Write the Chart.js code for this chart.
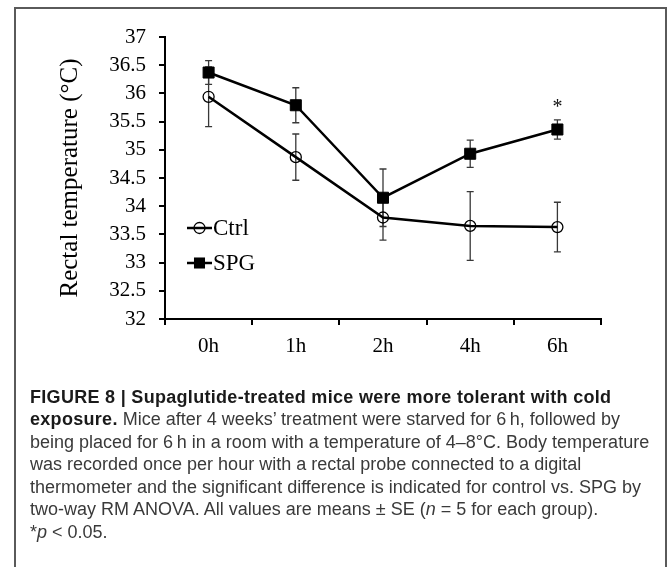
<!DOCTYPE html>
<html>
<head>
<meta charset="utf-8">
<script src="https://cdn.jsdelivr.net/npm/chart.js@4.4.1/dist/chart.umd.min.js"></script>
<style>
  html, body { margin:0; padding:0; background:#fff; }
  body { width:672px; height:567px; position:relative; overflow:hidden; }
  #frame { position:absolute; left:14px; top:7px; width:653px; height:620px; border:2px solid #5a5a5a; box-sizing:border-box; }
  #wrap { position:absolute; left:0; top:0; width:672px; height:380px; }
  #caption { position:absolute; left:30px; top:385.5px; width:640px; font-family:"Liberation Sans", Arial, sans-serif; font-size:18px; line-height:22.5px; color:#3a3a3a; white-space:nowrap; }
  #caption b { color:#1a1a1a; letter-spacing:0.3px; }
</style>
</head>
<body>
<div id="wrap"><canvas id="c" width="672" height="380"></canvas></div>
<div id="frame"></div>
<div id="caption">
<b>FIGURE 8 | Supaglutide-treated mice were more tolerant with cold</b><br>
<b>exposure.</b> Mice after 4 weeks’ treatment were starved for 6&#8201;h, followed by<br>
being placed for 6&#8201;h in a room with a temperature of 4–8°C. Body temperature<br>
was recorded once per hour with a rectal probe connected to a digital<br>
thermometer and the significant difference is indicated for control vs. SPG by<br>
two-way RM ANOVA. All values are means ± SE (<i>n</i> = 5 for each group).<br>
*<i>p</i> &lt; 0.05.
</div>
<script>
const categories = ['0h', '1h', '2h', '4h', '6h'];
const seriesNames = ['Ctrl', 'SPG'];
const ctrlMean = [35.94, 34.87, 33.80, 33.65, 33.63];
const ctrlSE   = [0.53, 0.41, 0.40, 0.61, 0.44];
const spgMean  = [36.37, 35.79, 34.15, 34.93, 35.36];
const spgSE    = [0.21, 0.31, 0.51, 0.24, 0.17];
const sigMarks = ['', '', '', '', '*'];
const yMin = 32, yMax = 37, yStep = 0.5;

const SERIF = '"Liberation Serif", "Times New Roman", serif';
const CANVAS_H = 380;

const errorBars = {
  id: 'errorBars',
  beforeDatasetsDraw(chart) {
    const ctx = chart.ctx;
    const x = chart.scales.x, y = chart.scales.y;
    const sets = [[ctrlMean, ctrlSE], [spgMean, spgSE]];
    ctx.save();
    ctx.strokeStyle = '#383838';
    ctx.lineWidth = 1.3;
    sets.forEach(([m, se]) => {
      m.forEach((v, i) => {
        const px = x.getPixelForValue(i);
        const top = y.getPixelForValue(v + se[i]);
        const bot = y.getPixelForValue(v - se[i]);
        ctx.beginPath();
        ctx.moveTo(px, top); ctx.lineTo(px, bot);
        ctx.moveTo(px - 3.5, top); ctx.lineTo(px + 3.5, top);
        ctx.moveTo(px - 3.5, bot); ctx.lineTo(px + 3.5, bot);
        ctx.stroke();
      });
    });
    ctx.restore();
  },
  afterDatasetsDraw(chart) {
    const ctx = chart.ctx;
    const x = chart.scales.x, y = chart.scales.y;
    ctx.save();
    ctx.fillStyle = '#111';
    ctx.font = '20px ' + SERIF;
    ctx.textAlign = 'center';
    ctx.textBaseline = 'alphabetic';
    sigMarks.forEach((s, i) => {
      if (!s) return;
      const px = x.getPixelForValue(i);
      const top = y.getPixelForValue(spgMean[i] + spgSE[i]);
      ctx.fillText(s, px, top - 7);
    });
    const a = chart.chartArea;
    const lx = a.left + 22, rows = [a.top + 191, a.top + 226];
    chart.data.datasets.forEach((ds, k) => {
      const yy = rows[k];
      ctx.strokeStyle = '#000';
      ctx.lineWidth = 2.5;
      ctx.beginPath(); ctx.moveTo(lx, yy); ctx.lineTo(lx + 25, yy); ctx.stroke();
      ctx.lineWidth = ds.pointBorderWidth;
      if (ds.pointStyle === 'rect') {
        const s = Math.SQRT1_2 * ds.pointRadius;
        ctx.fillStyle = '#000';
        ctx.fillRect(lx + 12.5 - s, yy - s, 2 * s, 2 * s);
      } else {
        ctx.beginPath(); ctx.arc(lx + 12.5, yy, ds.pointRadius, 0, Math.PI * 2); ctx.stroke();
      }
      ctx.fillStyle = '#000';
      ctx.font = '23px ' + SERIF;
      ctx.textAlign = 'left';
      ctx.textBaseline = 'middle';
      ctx.fillText(ds.label, lx + 26, yy + 1);
    });
    ctx.restore();
  }
};

new Chart(document.getElementById('c'), {
  type: 'line',
  data: {
    labels: categories,
    datasets: [
      { label: seriesNames[0], data: ctrlMean, borderColor: '#000', borderWidth: 2.5, tension: 0,
        pointStyle: 'circle', pointRadius: 5.5, pointBorderWidth: 1.3,
        pointBackgroundColor: 'rgba(0,0,0,0)', pointBorderColor: '#000' },
      { label: seriesNames[1], data: spgMean, borderColor: '#000', borderWidth: 2.5, tension: 0,
        pointStyle: 'rect', pointRadius: 7.8, pointBorderWidth: 1,
        pointBackgroundColor: '#000', pointBorderColor: '#000' }
    ]
  },
  options: {
    responsive: false, animation: false, devicePixelRatio: 1,
    layout: { padding: { left: 0, right: 71, top: 37, bottom: 0 } },
    plugins: { legend: { display: false }, tooltip: { enabled: false } },
    scales: {
      x: {
        offset: true,
        grid: { offset: true, drawOnChartArea: false, tickLength: 6, color: '#000', lineWidth: 2 },
        border: { color: '#000', width: 2 },
        ticks: { font: { family: SERIF, size: 21 }, color: '#000', padding: 9 },
        afterFit(s) { s.height = CANVAS_H - 319; }
      },
      y: {
        min: yMin, max: yMax,
        grid: { drawOnChartArea: false, tickLength: 6, color: '#000', lineWidth: 2 },
        border: { color: '#000', width: 2 },
        ticks: { stepSize: yStep, font: { family: SERIF, size: 21 }, color: '#000', padding: 13,
                 callback: (v) => String(v) },
        title: { display: true, text: 'Rectal temperature (°C)', font: { family: SERIF, size: 25, weight: 'normal' },
                 color: '#000', padding: { top: 55, bottom: 0 } },
        afterFit(s) { s.width = 165; }
      }
    }
  },
  plugins: [errorBars]
});
</script>
</body>
</html>
